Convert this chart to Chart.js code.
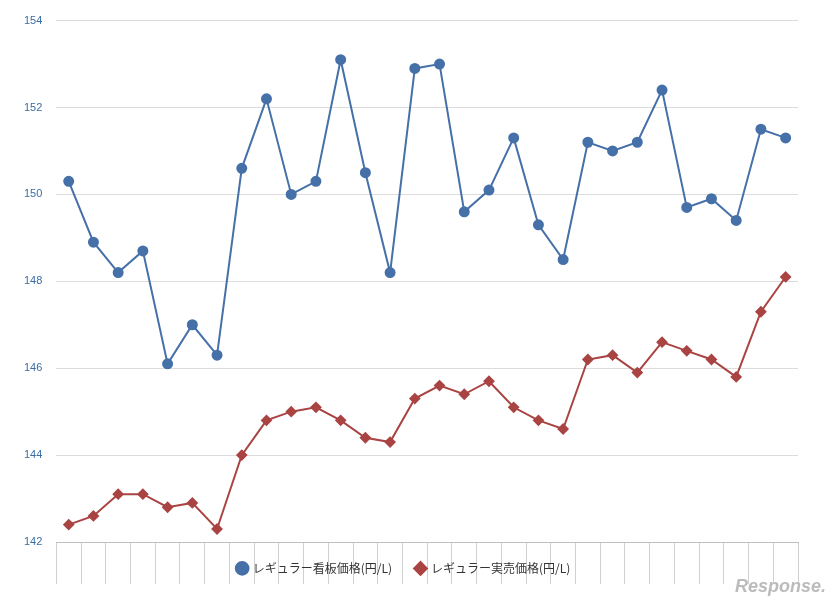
<!DOCTYPE html>
<html><head><meta charset="utf-8">
<script src="https://cdn.jsdelivr.net/npm/chart.js@4/dist/chart.umd.min.js"></script>
<style>body{margin:0;background:#fff}#w{position:relative;width:838px;height:603px}</style>
</head><body><div id="w"><canvas id="c" width="838" height="603"></canvas></div>
<script>
const months=["6","6","6","6","6","6","6","6","6","6","6","6","6","6","6","6","6","6","6","6","6","6","6","6","7","7","7","7","7","7"];
const days=["7","8","9","10","11","12","13","14","15","16","17","18","19","20","21","22","23","24","25","26","27","28","29","30","1","2","3","4","5","6"];
const signPrice=[150.3,148.9,148.2,148.7,146.1,147.0,146.3,150.6,152.2,150.0,150.3,153.1,150.5,148.2,152.9,153.0,149.6,150.1,151.3,149.3,148.5,151.2,151.0,151.2,152.4,149.7,149.9,149.4,151.5,151.3];
const actualPrice=[142.4,142.6,143.1,143.1,142.8,142.9,142.3,144.0,144.8,145.0,145.1,144.8,144.4,144.3,145.3,145.6,145.4,145.7,145.1,144.8,144.6,146.2,146.3,145.9,146.6,146.4,146.2,145.8,147.3,148.1];
const labels=months.map((m,i)=>[m,days[i]]);
new Chart(document.getElementById('c'),{type:'line',
data:{labels,datasets:[
{label:'レギュラー看板価格(円/L)',data:signPrice,borderColor:'#4570a8',backgroundColor:'#4570a8',borderWidth:2,pointRadius:4.5,pointStyle:'circle',tension:0},
{label:'レギュラー実売価格(円/L)',data:actualPrice,borderColor:'#a94443',backgroundColor:'#a94443',borderWidth:2,pointRadius:4.5,pointStyle:'rectRot',tension:0}]},
options:{responsive:false,animation:false,layout:{padding:{left:10,right:40,top:5,bottom:15}},
plugins:{legend:{position:'bottom',labels:{usePointStyle:true,boxWidth:9,boxHeight:9,color:'#333',font:{size:12,family:'Noto Sans CJK JP'},padding:24}},tooltip:{enabled:false}},
scales:{
x:{offset:true,grid:{offset:true,drawOnChartArea:false,tickLength:42,color:'#d0d0d0'},border:{color:'#c0c0c0'},ticks:{color:'#555',font:{size:11},maxRotation:0,autoSkip:false,padding:-36}},
y:{min:142,max:154,ticks:{stepSize:2,color:'#3a6ea5',font:{size:11},padding:14},grid:{color:'#dcdcdc',drawTicks:false},border:{display:false}}}}});
</script>
<div style="position:absolute;right:12px;bottom:6px;font:italic bold 18px 'Liberation Sans';color:#bbb">Response.</div>
</body></html>
